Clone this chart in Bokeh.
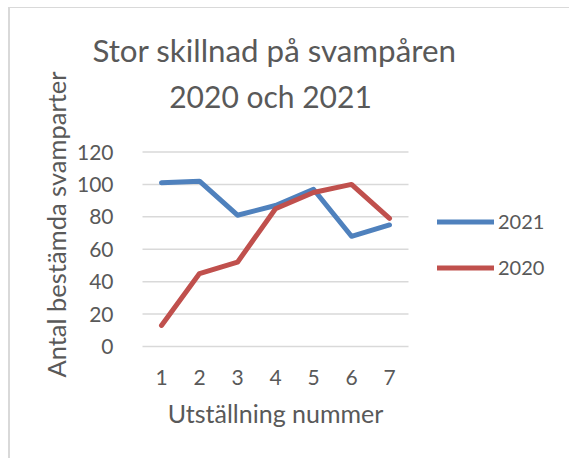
import math
from bokeh.plotting import figure
from bokeh.models import Range1d, FixedTicker, Legend, LegendItem, Label
from bokeh.embed import file_html
from bokeh.resources import INLINE

# ---- data ----
exhibitions = [1, 2, 3, 4, 5, 6, 7]
series_2021 = [101, 102, 81, 87, 97, 68, 75]
series_2020 = [13, 45, 52, 85, 95, 100, 79]
y_ticks = [0, 20, 40, 60, 80, 100, 120]
title_lines = ["Stor skillnad på svampåren", "2020 och 2021"]
x_title = "Utställning nummer"
y_title = "Antal bestämda svamparter"

TXT = "#595959"
FONT = "Lato"

# ---- layout (page pixels) ----
CONTENT_X, CONTENT_Y = 10, 8          # after css margin + border
W, H = 561, 451
PLOT_LEFT, PLOT_RIGHT = 142, 408      # plot area of the category axis
PLOT_TOP, PLOT_BOTTOM = 151.5, 346    # 120 .. 0
x_lo, x_hi = exhibitions[0] - 0.5, exhibitions[-1] + 0.5
y_lo, y_hi = y_ticks[0], y_ticks[-1]
xs = (PLOT_RIGHT - PLOT_LEFT) / (x_hi - x_lo)
ys = (PLOT_BOTTOM - PLOT_TOP) / (y_hi - y_lo)


def dx(px):
    return x_lo + (px - PLOT_LEFT) / xs


def dy(py):
    return y_lo + (PLOT_BOTTOM - py) / ys


p = figure(width=W, height=H, output_backend="svg", toolbar_location=None,
           x_range=Range1d(dx(CONTENT_X), dx(CONTENT_X + W)),
           y_range=Range1d(dy(CONTENT_Y + H), dy(CONTENT_Y)),
           min_border=0)
p.styles = {"margin-left": "8px", "margin-top": "7px",
            "border-left": "2px solid #d9d9d9", "border-top": "1px solid #d9d9d9"}
p.outline_line_color = None
p.background_fill_color = "white"
p.border_fill_color = "white"
p.xgrid.grid_line_color = None
p.ygrid.grid_line_color = None

p.xaxis.ticker = FixedTicker(ticks=exhibitions)
p.yaxis.ticker = FixedTicker(ticks=y_ticks)
p.xaxis.fixed_location = y_lo
p.yaxis.fixed_location = x_lo
for ax in (p.xaxis, p.yaxis):
    ax.axis_line_color = None
    ax.major_tick_line_color = None
    ax.minor_tick_line_color = None
    ax.major_label_text_font = FONT
    ax.major_label_text_color = TXT
    ax.major_label_text_font_size = "21px"
p.yaxis.major_label_standoff = 23
p.xaxis.major_label_standoff = 17

# horizontal gridlines over the plot area only
p.segment(x0=[x_lo] * len(y_ticks), x1=[x_hi] * len(y_ticks), y0=y_ticks, y1=y_ticks,
          line_color="#d9d9d9", line_width=1.5)

r21 = p.line(exhibitions, series_2021, line_color="#4f81bd", line_width=5,
             line_cap="round", line_join="round")
r20 = p.line(exhibitions, series_2020, line_color="#c0504d", line_width=5,
             line_cap="round", line_join="round")

legend = Legend(items=[LegendItem(label="2021", renderers=[r21]),
                       LegendItem(label="2020", renderers=[r20])],
                location=(437 - CONTENT_X, CONTENT_Y + H - 279), padding=0, margin=0,
                spacing=22, glyph_width=57, glyph_height=23, label_height=23,
                label_standoff=4, label_text_font=FONT, label_text_font_size="20px",
                label_text_color=TXT, border_line_color=None, background_fill_alpha=0)
p.add_layout(legend, "center")

for txt, cx, yy, fs in zip(title_lines, [274, 270], [49.5, 95.5], ["31.3px", "30px"]):
    p.add_layout(Label(x=dx(cx), y=dy(yy), text=txt, text_align="center",
                       text_baseline="alphabetic", text_font=FONT, text_font_size=fs,
                       text_color=TXT))

p.add_layout(Label(x=dx(275), y=dy(412.5), text=x_title, text_align="center",
                   text_baseline="alphabetic", text_font=FONT, text_font_size="25px",
                   text_color=TXT))
p.add_layout(Label(x=dx(55.5), y=dy(224), text=y_title, angle=math.pi / 2,
                   text_align="center", text_baseline="alphabetic", text_font=FONT,
                   text_font_size="25.5px", text_color=TXT))

open("out.html", "w").write(file_html(p, INLINE))
